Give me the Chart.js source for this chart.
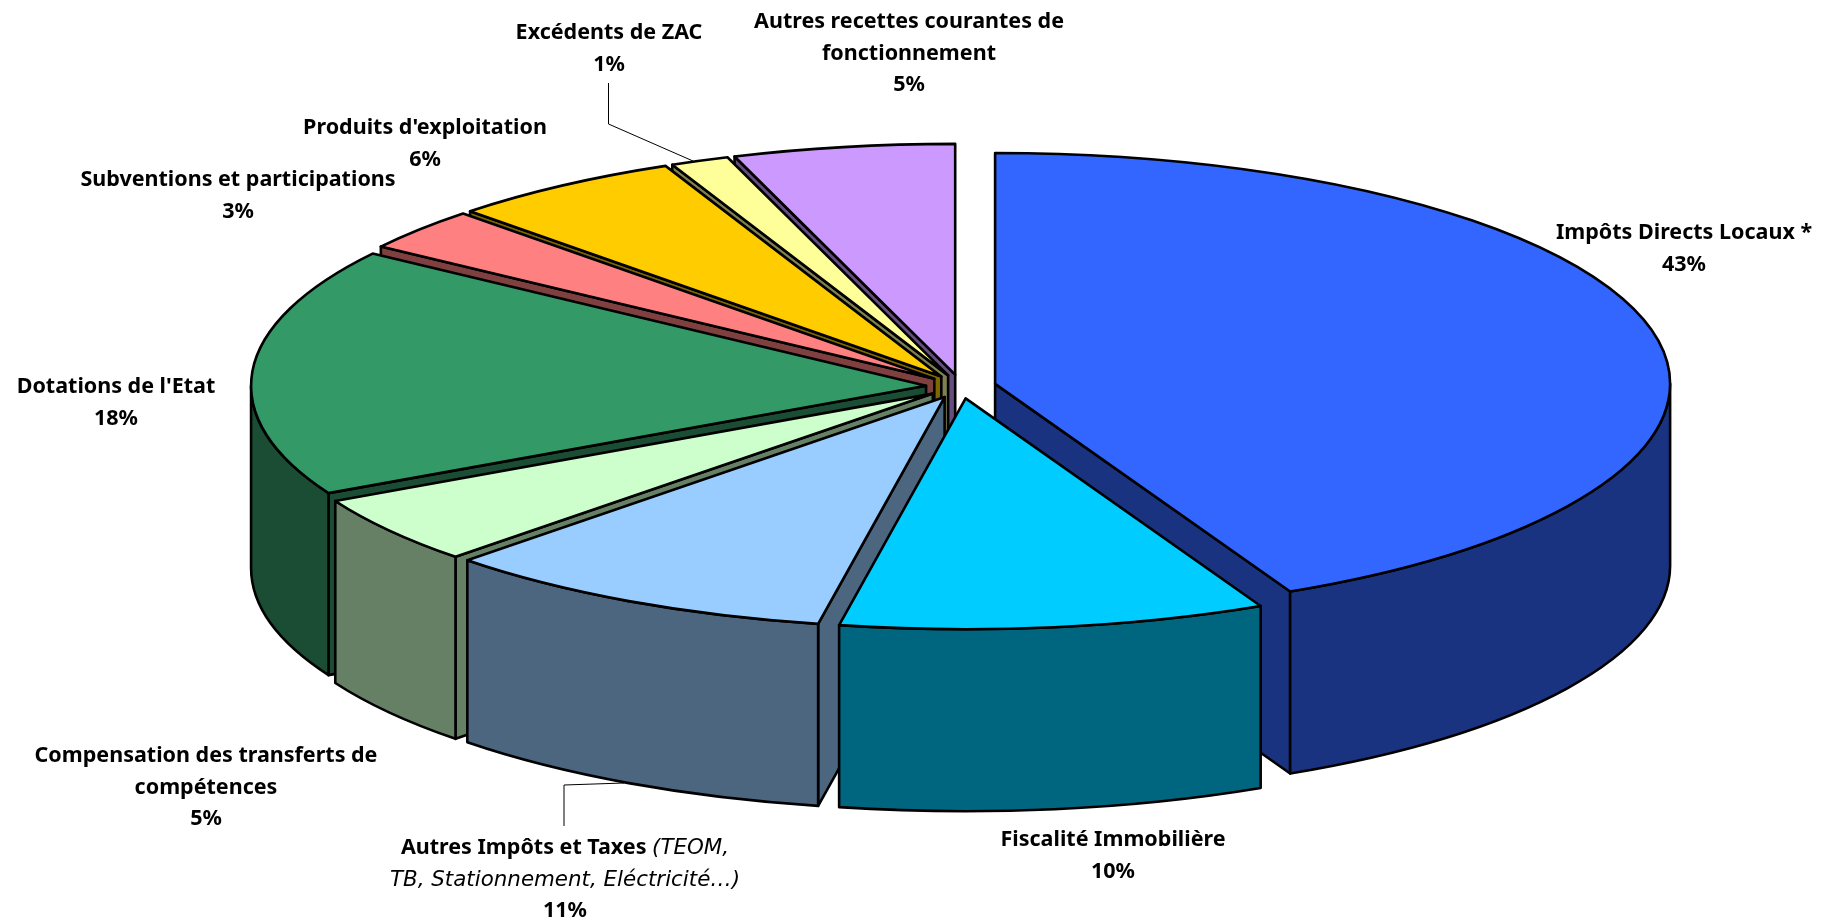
<!DOCTYPE html>
<html lang="fr">
<head>
<meta charset="utf-8">
<title>Recettes de fonctionnement</title>
<script src="https://cdn.jsdelivr.net/npm/chart.js@4"></script>
<style>
html,body{margin:0;padding:0;background:#fff}
#wrap{position:relative;width:1825px;height:919px}
</style>
</head>
<body>
<div id="wrap"><canvas id="c"></canvas></div>
<script>
const categories = ["Impôts Directs Locaux *","Fiscalité Immobilière","Autres Impôts et Taxes (TEOM, TB, Stationnement, Eléctricité…)","Compensation des transferts de compétences","Dotations de l'Etat","Subventions et participations","Produits d'exploitation","Excédents de ZAC","Autres recettes courantes de fonctionnement"];
const shares = [42.8,10.2,9.5,4.8,17.4,3.0,5.6,1.4,5.3];
const percentLabels = ["43%","10%","11%","5%","18%","3%","6%","1%","5%"];
const topColors = ["#3366FF","#00CCFF","#99CCFF","#CCFFCC","#339966","#FF8080","#FFCC00","#FFFF99","#CC99FF"];
const sideColors = ["#1A3380","#006680","#4D6680","#668066","#1A4D33","#804040","#806600","#808050","#664D80"];

const RADIUS = 675, TILT = 0.342, DEPTH = 182, EXPLODE = 35, OUTLINE = 2.6;
const FONT = '"Noto Sans", sans-serif', ITALIC_FONT = '"DejaVu Sans", sans-serif', SIZE = 21.5, ITALIC_SIZE = 21.4, LH = 31.6;

// label blocks: anchor centre x, first baseline y, lines of [text, italic?] runs
const labelBlocks = [
  {x:1684,y:239,lines:[[["Impôts Directs Locaux *",0]],[[percentLabels[0],0]]]},
  {x:1113,y:846,lines:[[["Fiscalité Immobilière",0]],[[percentLabels[1],0]]]},
  {x:565,y:854,lines:[[["Autres Impôts et Taxes ",0],["(TEOM,",1]],[["TB, Stationnement, Eléctricité…)",1]],[[percentLabels[2],0]]]},
  {x:206,y:762,lines:[[["Compensation des transferts de",0]],[["compétences",0]],[[percentLabels[3],0]]]},
  {x:116,y:393,lines:[[["Dotations de l'Etat",0]],[[percentLabels[4],0]]]},
  {x:238,y:186,lines:[[["Subventions et participations",0]],[[percentLabels[5],0]]]},
  {x:425,y:134,lines:[[["Produits d'exploitation",0]],[[percentLabels[6],0]]]},
  {x:609,y:39,lines:[[["Excédents de ZAC",0]],[[percentLabels[7],0]]]},
  {x:909,y:28,lines:[[["Autres recettes courantes de",0]],[["fonctionnement",0]],[[percentLabels[8],0]]]}
];
const leaderLines = [
  [[608.5,83],[608.5,124],[693,161]],
  [[564,826],[564,785],[624,783]]
];

const pie3d = {
  id:'pie3d',
  afterDatasetsUpdate(chart){
    for(const a of chart.getDatasetMeta(0).data){
      const mid=(a.startAngle+a.endAngle)/2;
      a.x+=Math.cos(mid)*EXPLODE;
      a.y+=Math.sin(mid)*EXPLODE;
    }
  },
  beforeDatasetsDraw(chart){
    const ctx=chart.ctx, arcs=chart.getDatasetMeta(0).data;
    const cy=(chart.chartArea.top+chart.chartArea.bottom)/2;
    const py=y=>cy+(y-cy)*TILT;
    const order=arcs.map((a,i)=>i).sort((p,q)=>{
      const d=i=>Math.abs((arcs[i].startAngle+arcs[i].endAngle)/2-Math.PI/2);
      return d(q)-d(p);
    });
    ctx.save();
    ctx.lineWidth=OUTLINE; ctx.lineJoin='round'; ctx.strokeStyle='#000';
    for(const i of order){
      const a=arcs[i], ax=a.x, ay=py(a.y), r=a.outerRadius;
      ctx.fillStyle=sideColors[i];
      const face=ang=>{
        const cx2=ax+r*Math.cos(ang), cy2=ay+r*TILT*Math.sin(ang);
        ctx.beginPath();
        ctx.moveTo(ax,ay); ctx.lineTo(cx2,cy2); ctx.lineTo(cx2,cy2+DEPTH); ctx.lineTo(ax,ay+DEPTH); ctx.closePath();
        ctx.fill(); ctx.stroke();
      };
      if(a.startAngle>Math.PI/2 && a.startAngle<Math.PI*1.5) face(a.startAngle);
      if(a.endAngle>-Math.PI/2 && a.endAngle<Math.PI/2) face(a.endAngle);
      const a0=Math.max(a.startAngle,0), a1=Math.min(a.endAngle,Math.PI);
      if(a1>a0){
        ctx.beginPath();
        ctx.ellipse(ax,ay,r,r*TILT,0,a0,a1);
        ctx.ellipse(ax,ay+DEPTH,r,r*TILT,0,a1,a0,true);
        ctx.closePath();
        ctx.fill(); ctx.stroke();
      }
    }
    ctx.restore();
    ctx.save();
    ctx.translate(0,cy); ctx.scale(1,TILT); ctx.translate(0,-cy);
  },
  afterDatasetsDraw(chart){
    const ctx=chart.ctx, arcs=chart.getDatasetMeta(0).data;
    ctx.restore();
    const cy=(chart.chartArea.top+chart.chartArea.bottom)/2;
    const py=y=>cy+(y-cy)*TILT;
    ctx.save();
    ctx.lineWidth=OUTLINE; ctx.lineJoin='round'; ctx.strokeStyle='#000';
    for(const a of arcs){
      const ax=a.x, ay=py(a.y);
      ctx.beginPath();
      ctx.moveTo(ax,ay);
      ctx.ellipse(ax,ay,a.outerRadius,a.outerRadius*TILT,0,a.startAngle,a.endAngle);
      ctx.closePath();
      ctx.stroke();
    }
    ctx.restore();
  },
  afterDraw(chart){
    const ctx=chart.ctx;
    ctx.save();
    ctx.strokeStyle='#000'; ctx.lineWidth=1;
    for(const l of leaderLines){
      ctx.beginPath();
      l.forEach((p,i)=>i?ctx.lineTo(p[0],p[1]):ctx.moveTo(p[0],p[1]));
      ctx.stroke();
    }
    ctx.fillStyle='#000'; ctx.textBaseline='alphabetic'; ctx.textAlign='left';
    const fontOf=it=>it?`italic ${ITALIC_SIZE}px ${ITALIC_FONT}`:`bold ${SIZE}px ${FONT}`;
    for(const b of labelBlocks){
      b.lines.forEach((runs,n)=>{
        let w=0;
        for(const [t,it] of runs){ctx.font=fontOf(it);w+=ctx.measureText(t).width;}
        let x=b.x-w/2; const y=b.y+n*LH;
        for(const [t,it] of runs){ctx.font=fontOf(it);ctx.fillText(t,x,y);x+=ctx.measureText(t).width;}
      });
    }
    ctx.restore();
  }
};

new Chart(document.getElementById('c'),{
  type:'pie',
  data:{labels:categories,datasets:[{data:shares,backgroundColor:topColors,borderWidth:0,radius:RADIUS,clip:false}]},
  options:{
    responsive:true,maintainAspectRatio:false,animation:false,
    layout:{padding:{left:97,bottom:146}},
    plugins:{legend:{display:false},tooltip:{enabled:false}},
    events:[]
  },
  plugins:[pie3d]
});
</script>
</body>
</html>
